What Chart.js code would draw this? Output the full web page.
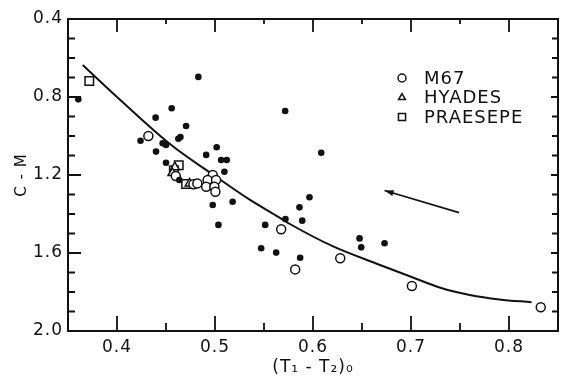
<!DOCTYPE html>
<html lang="en">
  <head>
    <meta charset="utf-8" />
    <title>C-M vs (T1-T2)0</title>
    <style>
      * {
        margin: 0;
        padding: 0;
      }
      body {
        background: white;
      }
      .chartBox {
        width: 570px;
        height: 381px;
      }
    </style>
  </head>
  <body>
    <div class="chartBox">
      <canvas id="myChart"></canvas>
    </div>

    <script src="https://cdn.jsdelivr.net/npm/chart.js@4.4.0/dist/chart.umd.min.js"></script>

    <script>
      // field stars (filled dots)
      const fieldX = [0.3605, 0.483, 0.5716, 0.6084, 0.4558, 0.4394, 0.4705, 0.424, 0.4626, 0.4647, 0.4466, 0.450, 0.4398, 0.491, 0.5017, 0.5062, 0.512, 0.5096, 0.450, 0.4636, 0.4977, 0.518, 0.5035, 0.5512, 0.5719, 0.5964, 0.5862, 0.589, 0.5471, 0.5624, 0.5869, 0.6475, 0.6492, 0.673];
      const fieldY = [0.812, 0.697, 0.872, 1.086, 0.858, 0.906, 0.949, 1.024, 1.014, 1.005, 1.037, 1.046, 1.08, 1.097, 1.058, 1.123, 1.123, 1.183, 1.137, 1.226, 1.354, 1.337, 1.456, 1.456, 1.426, 1.314, 1.366, 1.434, 1.576, 1.598, 1.624, 1.525, 1.571, 1.55];

      // M67 (open circles)
      const m67X = [0.432, 0.460, 0.478, 0.482, 0.4977, 0.4925, 0.5011, 0.491, 0.4994, 0.5004, 0.5675, 0.5818, 0.6278, 0.7009, 0.8324];
      const m67Y = [1.0, 1.205, 1.248, 1.243, 1.20, 1.226, 1.226, 1.26, 1.26, 1.286, 1.478, 1.684, 1.627, 1.769, 1.878];

      // Hyades (triangles)
      const hyadesX = [0.459, 0.4565, 0.474];
      const hyadesY = [1.16, 1.19, 1.243];

      // Praesepe (squares)
      const praesepeX = [0.3717, 0.463, 0.458, 0.4705];
      const praesepeY = [0.718, 1.15, 1.175, 1.246];

      // fitted curve
      const curveX = [0.365, 0.40, 0.455, 0.50, 0.535, 0.5624, 0.576, 0.62, 0.665, 0.70, 0.73, 0.76, 0.79, 0.823];
      const curveY = [0.636, 0.80, 1.045, 1.205, 1.325, 1.408, 1.45, 1.565, 1.655, 1.722, 1.778, 1.815, 1.838, 1.852];

      // arrow (tail -> head)
      const arrowX = [0.749, 0.673];
      const arrowY = [1.393, 1.28];

      // axes
      const xTicks = [0.4, 0.5, 0.6, 0.7, 0.8];
      const xMinorTicks = [0.45, 0.55, 0.65, 0.75];
      const yTicks = [0.4, 0.8, 1.2, 1.6, 2.0];
      const yMinorTicks = [0.5, 0.6, 0.7, 0.9, 1.0, 1.1, 1.3, 1.4, 1.5, 1.7, 1.8, 1.9];

      const legendLabels = ["M67", "HYADES", "PRAESEPE"];
      const legendStyles = ["circle", "triangle", "rect"];

      const toPoints = (xs, ys) => xs.map((x, i) => ({ x: x, y: ys[i] }));
      const ink = "#111";

      // frame + inward ticks, arrow head, legend
      const frameTicks = {
        id: "frameTicks",
        afterDatasetsDraw(chart) {
          const {
            ctx,
            chartArea: { top, bottom, left, right },
            scales: { x, y },
          } = chart;
          ctx.save();
          ctx.strokeStyle = ink;
          ctx.lineWidth = 2;
          ctx.strokeRect(left, top, right - left, bottom - top);

          ctx.lineWidth = 1.8;
          ctx.beginPath();
          xTicks.forEach((v) => {
            const px = x.getPixelForValue(v);
            ctx.moveTo(px, bottom);
            ctx.lineTo(px, bottom - 15);
            ctx.moveTo(px, top);
            ctx.lineTo(px, top + 13);
          });
          xMinorTicks.forEach((v) => {
            const px = x.getPixelForValue(v);
            ctx.moveTo(px, bottom);
            ctx.lineTo(px, bottom - 8);
            ctx.moveTo(px, top);
            ctx.lineTo(px, top + 5);
          });
          yTicks.forEach((v) => {
            const py = y.getPixelForValue(v);
            ctx.moveTo(left, py);
            ctx.lineTo(left + 13, py);
            ctx.moveTo(right, py);
            ctx.lineTo(right - 7, py);
          });
          yMinorTicks.forEach((v) => {
            const py = y.getPixelForValue(v);
            ctx.moveTo(left, py);
            ctx.lineTo(left + 7, py);
            ctx.moveTo(right, py);
            ctx.lineTo(right - 6, py);
          });
          ctx.stroke();

          // arrow head
          const pts = chart.getDatasetMeta(5).data;
          const a = pts[0], b = pts[1];
          const ang = Math.atan2(b.y - a.y, b.x - a.x);
          ctx.fillStyle = ink;
          ctx.beginPath();
          ctx.moveTo(b.x, b.y);
          ctx.lineTo(b.x - 9 * Math.cos(ang) + 3 * Math.sin(ang), b.y - 9 * Math.sin(ang) - 3 * Math.cos(ang));
          ctx.lineTo(b.x - 9 * Math.cos(ang) - 3 * Math.sin(ang), b.y - 9 * Math.sin(ang) + 3 * Math.cos(ang));
          ctx.closePath();
          ctx.fill();

          // legend
          ctx.letterSpacing = "1px";
          ctx.font = "18px 'DejaVu Sans'";
          ctx.textAlign = "left";
          ctx.textBaseline = "middle";
          legendLabels.forEach((label, i) => {
            const ly = top + 59 + i * 19.5;
            ctx.fillStyle = "white";
            ctx.strokeStyle = ink;
            ctx.lineWidth = 1.5;
            Chart.helpers.drawPoint(
              ctx,
              {
                pointStyle: legendStyles[i],
                radius: legendStyles[i] === "rect" ? 5 : 4,
                borderWidth: 1.5,
                rotation: 0,
              },
              left + 334,
              ly
            );
            ctx.fillStyle = ink;
            ctx.fillText(label, left + 356, ly + 1);
          });
          ctx.restore();
        },
      };

      const spacing = {
        id: "spacing",
        beforeDraw(chart) {
          chart.ctx.letterSpacing = "1px";
        },
      };

      const openPt = {
        backgroundColor: "white",
        borderColor: ink,
        borderWidth: 1.5,
      };

      const data = {
        datasets: [
          {
            label: "field",
            data: toPoints(fieldX, fieldY),
            pointStyle: "circle",
            pointRadius: 3.3,
            backgroundColor: ink,
            borderWidth: 0,
          },
          {
            label: "M67",
            data: toPoints(m67X, m67Y),
            pointStyle: "circle",
            pointRadius: 4.5,
            ...openPt,
          },
          {
            label: "HYADES",
            data: toPoints(hyadesX, hyadesY),
            pointStyle: "triangle",
            pointRadius: 5,
            ...openPt,
          },
          {
            label: "PRAESEPE",
            data: toPoints(praesepeX, praesepeY),
            pointStyle: "rect",
            pointRadius: 6,
            ...openPt,
          },
          {
            label: "fit",
            type: "line",
            data: toPoints(curveX, curveY),
            showLine: true,
            pointRadius: 0,
            borderColor: ink,
            borderWidth: 2,
            cubicInterpolationMode: "monotone",
            fill: false,
          },
          {
            label: "arrow",
            type: "line",
            data: toPoints(arrowX, arrowY),
            showLine: true,
            pointRadius: 0,
            borderColor: ink,
            borderWidth: 1.6,
            fill: false,
          },
        ],
      };

      const config = {
        type: "scatter",
        data: data,
        options: {
          responsive: true,
          maintainAspectRatio: false,
          animation: false,
          layout: {
            padding: { top: 19, right: 12, left: 0, bottom: 0 },
          },
          plugins: {
            legend: { display: false },
            tooltip: { enabled: false },
          },
          scales: {
            x: {
              type: "linear",
              min: 0.35,
              max: 0.85,
              afterBuildTicks: (s) => {
                s.ticks = xTicks.map((v) => ({ value: v }));
              },
              afterFit: (s) => {
                s.height = 50;
              },
              grid: { display: false, drawTicks: false },
              border: { display: false },
              ticks: {
                padding: 6,
                color: ink,
                font: { family: "'DejaVu Sans'", size: 17 },
                callback: (v) => v.toFixed(1),
              },
              title: {
                display: true,
                text: "(T\u2081 - T\u2082)\u2080",
                color: ink,
                font: { family: "'DejaVu Sans'", size: 17 },
                padding: { top: 0, bottom: 3 },
              },
            },
            y: {
              type: "linear",
              reverse: true,
              min: 0.4,
              max: 2.0,
              afterBuildTicks: (s) => {
                s.ticks = yTicks.map((v) => ({ value: v }));
              },
              afterFit: (s) => {
                s.width = 68;
              },
              grid: { display: false, drawTicks: false },
              border: { display: false },
              ticks: {
                padding: 5,
                color: ink,
                font: { family: "'DejaVu Sans'", size: 17 },
                callback: (v) => v.toFixed(1),
              },
              title: {
                display: true,
                text: "C - M",
                color: ink,
                font: { family: "'DejaVu Sans'", size: 15 },
                padding: { top: 13, bottom: 0 },
              },
            },
          },
        },
        plugins: [spacing, frameTicks],
      };

      const myChart = new Chart(document.getElementById("myChart"), config);
    </script>
  </body>
</html>
